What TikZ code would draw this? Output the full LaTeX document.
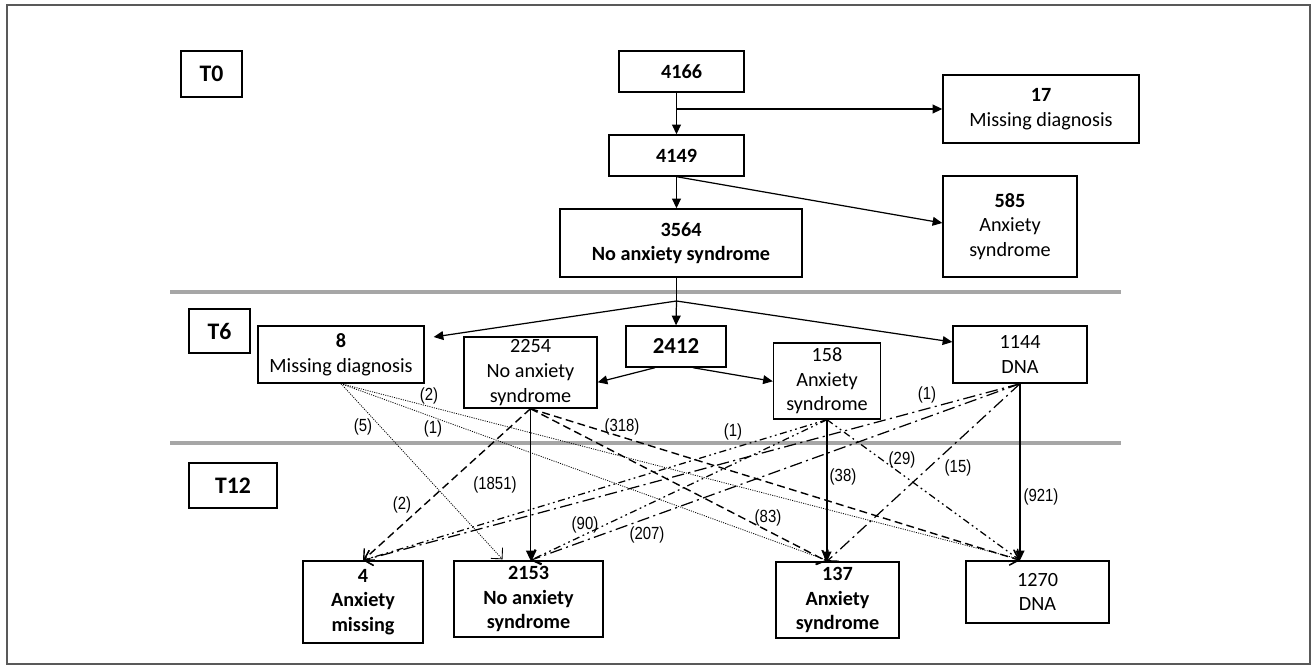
\documentclass[tikz,border=0pt]{standalone}
\usepackage{fontspec}
\setmainfont{Carlito}
\newfontfamily\narrowfont[FakeStretch=0.85]{Liberation Sans}
\usepackage{tikz}
\usetikzlibrary{arrows.meta}

\begin{document}
\begin{tikzpicture}[x=0.02cm, y=-0.02cm,
    box/.style={draw, line width=0.8pt, align=center, inner sep=1pt, font=\fontsize{11.5}{14}\selectfont},
    tbox/.style={draw, line width=0.8pt, inner sep=1pt, font=\fontsize{13.5}{15}\selectfont\bfseries},
    arr/.style={-{Triangle[length=5.5pt,width=5pt]}, line width=0.7pt},
    dotflow/.style={-{Straight Barb[length=4.5pt,width=9pt,line width=0.5pt]}, line width=0.45pt, dash pattern=on 0.6pt off 0.7pt},
    dashflow/.style={-{Straight Barb[length=4.5pt,width=9pt]}, line width=0.8pt, dash pattern=on 4.5pt off 2.5pt},
    ddflow/.style={-{Straight Barb[length=4.5pt,width=9pt]}, line width=0.7pt, dash pattern=on 4pt off 2pt on 1pt off 2pt on 1pt off 2pt},
    dflow/.style={-{Straight Barb[length=4.5pt,width=9pt]}, line width=0.7pt, dash pattern=on 7pt off 2.5pt on 1.2pt off 2.5pt},
    sep/.style={draw=gray!70, line width=2.6pt}]

    \useasboundingbox (0,0) rectangle (1313,666);
    \draw[gray!70!black, line width=0.8pt] (7,5) rectangle (1310,664);

    % Time separators
    \draw[sep] (170,292) -- (1121,292);
    \draw[sep] (170,443) -- (1121,443);

    % Time points
    \node[tbox, minimum width=1.22cm, minimum height=0.92cm] (T0) at (211.5,74) {T0};
    \node[tbox, minimum width=1.22cm, minimum height=0.88cm] (T6) at (219.5,331) {T6};
    \node[tbox, minimum width=1.76cm, minimum height=0.9cm] (T12) at (233,485.5) {T12};

    % Baseline
    \node[box, minimum width=2.5cm, minimum height=0.82cm] (n4166) at (681.5,71.5) {\textbf{4166}};
    \node[box, minimum width=2.7cm, minimum height=0.82cm] (n4149) at (676.5,155.5) {\textbf{4149}};
    \node[box, minimum width=4.84cm, minimum height=1.36cm] (n3564) at (681,243) {\textbf{3564}\\\textbf{No anxiety syndrome}};
    \node[box, minimum width=3.92cm, minimum height=1.36cm] (n17) at (1041,109) {\textbf{17}\\Missing diagnosis};
    \node[box, minimum width=2.68cm, minimum height=2.02cm] (n585) at (1010,226.5) {\textbf{585}\\Anxiety\\syndrome};

    % 6 months
    \node[box, minimum width=3.32cm, minimum height=1.14cm] (n8) at (341,354.5) {\textbf{8}\\Missing diagnosis};
    \node[box, minimum width=2.66cm, minimum height=1.42cm] (n2254) at (530.5,372.5) {2254\\No anxiety\\syndrome};
    \node[box, minimum width=2.0cm, minimum height=0.82cm, font=\fontsize{13}{15}\selectfont\bfseries] (n2412) at (676,346.5) {2412};
    \node[box, minimum width=2.14cm, minimum height=1.52cm] (n158) at (827,381) {158\\Anxiety\\syndrome};
    \node[box, minimum width=2.68cm, minimum height=1.14cm] (n1144) at (1020,354.5) {1144\\DNA};

    % 12 months
    \node[box, minimum width=2.4cm, minimum height=1.64cm] (n4) at (363,602) {\textbf{4}\\\textbf{Anxiety}\\\textbf{missing}};
    \node[box, minimum width=2.98cm, minimum height=1.52cm] (n2153) at (528.5,599) {\textbf{2153}\\\textbf{No anxiety}\\\textbf{syndrome}};
    \node[box, minimum width=2.46cm, minimum height=1.52cm] (n137) at (837.5,600) {\textbf{137}\\\textbf{Anxiety}\\\textbf{syndrome}};
    \node[box, minimum width=2.86cm, minimum height=1.24cm] (n1270) at (1037.5,592) {1270\\DNA};

    % Baseline flow
    \coordinate (b17) at (676.5,109);
    \coordinate (split) at (676.5,301);
    \draw[arr] (n4166.south -| n4149.north) -- (n4149.north);
    \draw[arr] (b17) -- (n17.west);
    \draw[arr] (n4149.south) -- ([shift={(0,-3.5)}]n585.west);
    \draw[arr] (n4149.south) -- (n4149.south |- n3564.north);
    \draw[line width=0.7pt] (n3564.south -| split) -- (split);
    \draw[arr] (split) -- ([shift={(9,-17.5)}]n8.east);
    \draw[arr] (split) -- (n2412.north);
    \draw[arr] (split) -- ([shift={(0,-12.5)}]n1144.west);
    \draw[arr] ([shift={(-21,0)}]n2412.south) -- ([shift={(0,46)}]n2254.north east);
    \draw[arr] ([shift={(17,0)}]n2412.south) -- ([shift={(0,39)}]n158.north west);

    % From missing diagnosis
    \draw[dotflow] (n8.south) -- ([shift={(-26,-1)}]n2153.north);
    \draw[dotflow] (n8.south) -- ([shift={(0,-1)}]n137.north -| n158.south);
    \draw[dotflow] (n8.south) -- ([shift={(0,-1)}]n1270.north -| n1144.south);

    % From no anxiety syndrome
    \draw[arr] (n2254.south) -- (n2153.north -| n2254.south);
    \draw[dashflow] (n2254.south) -- (n4.north);
    \draw[dashflow] (n2254.south) -- (n137.north -| n158.south);
    \draw[dashflow] (n2254.south) -- (n1270.north -| n1144.south);

    % From anxiety syndrome
    \draw[arr] (n158.south) -- (n137.north -| n158.south);
    \draw[ddflow] (n158.south) -- (n1270.north -| n1144.south);
    \draw[ddflow] (n158.south) -- (n2153.north -| n2254.south);
    \draw[ddflow] (n158.south) -- (n4.north);

    % From DNA
    \draw[arr] (n1144.south) -- (n1270.north -| n1144.south);
    \draw[dflow] (n1144.south) -- (n137.north -| n158.south);
    \draw[dflow] (n1144.south) -- (n2153.north -| n2254.south);
    \draw[dflow] (n1144.south) -- (n4.north);

    % Counts
    \foreach \x/\y/\t [count=\i] in {363/427/5, 433/429/1, 429/396/2, 495/485/1851, 402/505/2,
        768/518/83, 622/427/318, 843/477/38, 902/460/29, 733/432/1, 585/525/90,
        927/395/1, 958/468/15, 647/535/207, 1041/497/921}
        \node[font=\narrowfont\fontsize{10}{11}\selectfont, inner sep=0pt] (lab\i) at (\x,\y) {(\t)};
\end{tikzpicture}
\end{document}
